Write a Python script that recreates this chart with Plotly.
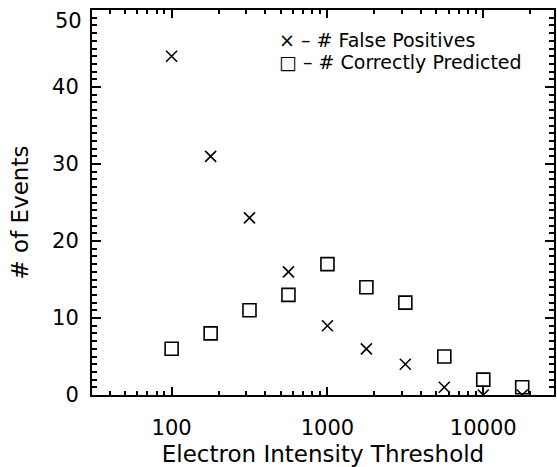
import plotly.graph_objects as go

thresholds = [100, 178, 316, 562, 1000, 1778, 3162, 5623, 10000, 17783]
false_positives = [44, 31, 23, 16, 9, 6, 4, 1, 0, 0]
correctly_predicted = [6, 8, 11, 13, 17, 14, 12, 5, 2, 1]

x_major = [100, 1000, 10000]
x_labels = ["100", "1000", "10000"]
x_minor = [m * 10 ** e for e in (1, 2, 3, 4) for m in range(2, 10)]
y_major = [0, 10, 20, 30, 40, 50]
y_labels = ["0", "10", "20", "30", "40", ""]   # top label drawn separately below the edge
y_top_label = "50"
y_minor = [v for v in range(0, 51) if v % 10]

FONT = "DejaVu Sans, Verdana, sans-serif"
XR = [1.489, 4.454]
YR = [0, 50.01]

fig = go.Figure()
fig.add_trace(go.Scatter(
    x=thresholds, y=false_positives, mode="markers", name="# False Positives",
    marker=dict(symbol="x-thin-open", size=11, color="black",
                line=dict(color="black", width=1.6)),
    showlegend=False))
fig.add_trace(go.Scatter(
    x=thresholds, y=correctly_predicted, mode="markers", name="# Correctly Predicted",
    marker=dict(symbol="square-open", size=13, color="black",
                line=dict(color="black", width=1.6)),
    showlegend=False))
for k in (2, 3, 4):
    fig.add_trace(go.Scatter(x=[], y=[], xaxis=f"x{k}", yaxis=f"y{k}",
                             showlegend=False, hoverinfo="skip"))


def tick_axis(vals, side, ln, overlay, anchor, log=False):
    d = dict(
        range=XR if log else YR, overlaying=overlay, anchor=anchor, side=side,
        tickmode="array", tickvals=vals, showticklabels=False,
        showgrid=False, zeroline=False, showline=False,
        mirror="allticks", ticks="inside", ticklen=ln, tickwidth=1.5, tickcolor="black",
    )
    if log:
        d["type"] = "log"
    return d


fig.update_layout(
    width=557, height=467,
    margin=dict(l=92, r=1, t=10, b=72),
    plot_bgcolor="rgba(0,0,0,0)", paper_bgcolor="white",
    xaxis=dict(
        type="log", range=XR, tickmode="array", tickvals=x_major, ticktext=x_labels,
        showgrid=False, zeroline=False, showline=True, linecolor="black", linewidth=2,
        mirror="allticks", ticks="inside", ticklen=8, tickwidth=1.5, tickcolor="black",
        tickfont=dict(family=FONT, size=21, color="black"), ticklabelstandoff=13,
        ticklabeloverflow="allow",
        title=dict(text="Electron Intensity Threshold",
                   font=dict(family=FONT, size=23, color="black"), standoff=7),
    ),
    yaxis=dict(
        range=YR, tickmode="array", tickvals=y_major, ticktext=y_labels,
        showgrid=False, zeroline=False, showline=True, linecolor="black", linewidth=2,
        mirror="allticks", ticks="inside", ticklen=9, tickwidth=1.5, tickcolor="black",
        tickfont=dict(family=FONT, size=21, color="black"), ticklabelstandoff=7,
        ticklabeloverflow="allow",
    ),
    xaxis2=tick_axis(x_major, "top", 8, "x", "y2", log=True),
    yaxis2=tick_axis(y_major, "right", 9, "y", "x2"),
    xaxis3=tick_axis(x_minor, "bottom", 4, "x", "y3", log=True),
    yaxis3=tick_axis(y_minor, "left", 5, "y", "x3"),
    xaxis4=tick_axis(x_minor, "top", 4, "x", "y4", log=True),
    yaxis4=tick_axis(y_minor, "right", 5, "y", "x4"),
)

# top y label: sits just below the top edge, as in the reference
fig.add_annotation(xref="paper", yref="y", x=0, y=y_major[-1], xanchor="right", yanchor="top",
                   xshift=-8, yshift=3, text=y_top_label, showarrow=False,
                   font=dict(family=FONT, size=21, color="black"))
fig.add_annotation(xref="paper", yref="paper", x=-0.155, y=0.475, xanchor="center", yanchor="middle",
                   text="# of Events", textangle=-90, showarrow=False,
                   font=dict(family=FONT, size=23, color="black"))
fig.add_annotation(xref="paper", yref="paper", x=0.4, y=0.921, xanchor="left", yanchor="middle",
                   text="× – # False Positives", showarrow=False,
                   font=dict(family=FONT, size=19, color="black"))
fig.add_annotation(xref="paper", yref="paper", x=0.4, y=0.866, xanchor="left", yanchor="middle",
                   text="□ – # Correctly Predicted", showarrow=False,
                   font=dict(family=FONT, size=19, color="black"))

fig.write_html("out.html")
